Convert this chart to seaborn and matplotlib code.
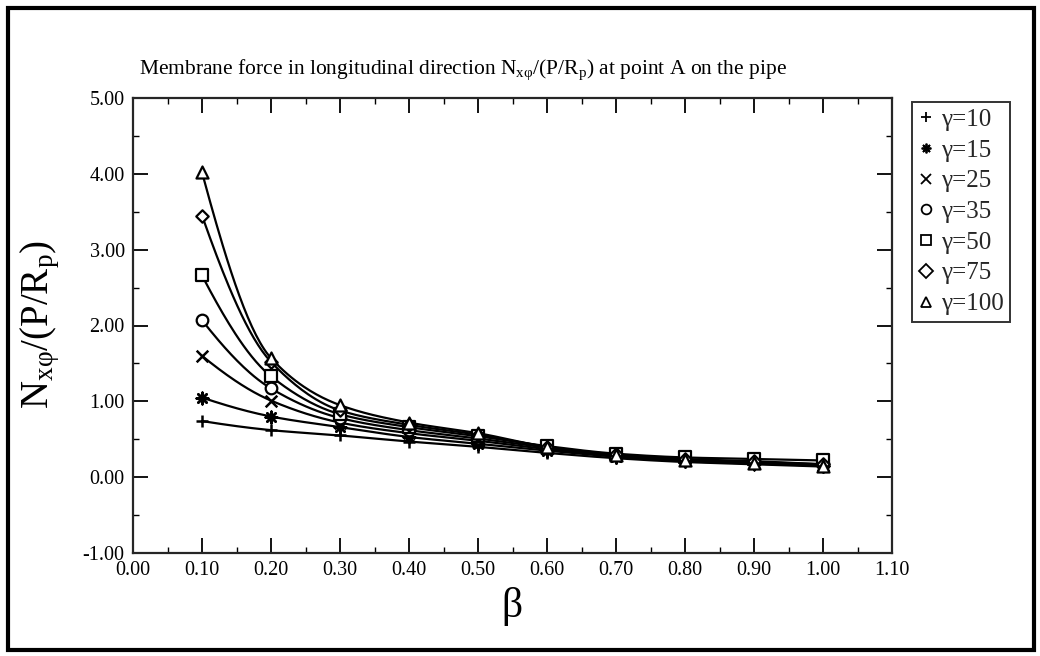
import numpy as np
import pandas as pd
import matplotlib
matplotlib.use("Agg")
import matplotlib.pyplot as plt
from matplotlib.lines import Line2D
from matplotlib.patches import Rectangle
from matplotlib.ticker import MultipleLocator, FormatStrFormatter
import seaborn as sns

# ---------------- data ----------------
beta = [0.1, 0.2, 0.3, 0.4, 0.5, 0.6, 0.7, 0.8, 0.9, 1.0]
gammas = ["10", "15", "25", "35", "50", "75", "100"]
g10 = [0.74, 0.62, 0.55, 0.47, 0.40, 0.32, 0.25, 0.20, 0.17, 0.14]
g15 = [1.05, 0.80, 0.66, 0.53, 0.44, 0.35, 0.27, 0.21, 0.18, 0.15]
g25 = [1.60, 1.01, 0.72, 0.58, 0.48, 0.37, 0.28, 0.22, 0.19, 0.16]
g35 = [2.07, 1.17, 0.78, 0.62, 0.51, 0.39, 0.29, 0.23, 0.20, 0.17]
g50 = [2.66, 1.33, 0.83, 0.66, 0.54, 0.41, 0.31, 0.26, 0.24, 0.22]
g75 = [3.45, 1.52, 0.88, 0.69, 0.56, 0.40, 0.30, 0.24, 0.21, 0.17]
g100 = [4.02, 1.57, 0.95, 0.72, 0.58, 0.40, 0.29, 0.22, 0.19, 0.15]
series = [g10, g15, g25, g35, g50, g75, g100]

title = r"Membrane force in longitudinal direction N$_{\mathrm{x\varphi}}$/(P/R$_{\mathrm{p}}$) at point A on the pipe"
ylabel = r"N$_{\mathrm{x\varphi}}$/(P/R$_{\mathrm{p}}$)"
xlabel = "β"

markers = ["+", (8, 2, 0), "x", "o", "s", "D", "^"]
msizes = [80, 70, 70, 70, 70, 40, 75]


def pchip(x, y, xs):
    x = np.asarray(x, float); y = np.asarray(y, float)
    h = np.diff(x); d = np.diff(y) / h
    n = len(x); m = np.zeros(n)
    for k in range(1, n - 1):
        if d[k - 1] * d[k] > 0:
            w1 = 2 * h[k] + h[k - 1]; w2 = h[k] + 2 * h[k - 1]
            m[k] = (w1 + w2) / (w1 / d[k - 1] + w2 / d[k])
    def end(h0, h1, d0, d1):
        v = ((2 * h0 + h1) * d0 - h0 * d1) / (h0 + h1)
        if np.sign(v) != np.sign(d0):
            v = 0.0
        elif np.sign(d0) != np.sign(d1) and abs(v) > abs(3 * d0):
            v = 3 * d0
        return v
    m[0] = end(h[0], h[1], d[0], d[1])
    m[-1] = end(h[-1], h[-2], d[-1], d[-2])
    idx = np.clip(np.searchsorted(x, xs) - 1, 0, n - 2)
    t = (xs - x[idx]) / h[idx]
    h00 = 2 * t**3 - 3 * t**2 + 1; h10 = t**3 - 2 * t**2 + t
    h01 = -2 * t**3 + 3 * t**2; h11 = t**3 - t**2
    return h00 * y[idx] + h10 * h[idx] * m[idx] + h01 * y[idx + 1] + h11 * h[idx] * m[idx + 1]


# ---------------- style ----------------
sns.set_theme(style="ticks")
plt.rcParams["font.family"] = ["Liberation Serif", "DejaVu Serif"]
plt.rcParams["mathtext.fontset"] = "custom"
plt.rcParams["mathtext.rm"] = "Liberation Serif"
plt.rcParams["mathtext.it"] = "Liberation Serif"
plt.rcParams["mathtext.bf"] = "Liberation Serif:bold"
plt.rcParams["axes.linewidth"] = 1.6

fig = plt.figure(figsize=(10.4, 6.56), dpi=100)
ax = fig.add_axes([133 / 1040, 1 - 553 / 656, (892 - 133) / 1040, (553 - 98) / 656])

xs = np.linspace(beta[0], beta[-1], 300)
for g, vals, mk, ms in zip(gammas, series, markers, msizes):
    curve = pd.DataFrame({"beta": xs, "val": pchip(beta, vals, xs)})
    sns.lineplot(data=curve, x="beta", y="val", ax=ax, color="black", lw=1.6,
                 sort=False, legend=False)
    pts = pd.DataFrame({"beta": beta, "val": vals})
    if mk in ["+", "x"] or isinstance(mk, tuple):
        sns.scatterplot(data=pts, x="beta", y="val", ax=ax, marker=mk, s=ms,
                        color="black", linewidth=1.8, legend=False, zorder=5)
    else:
        sns.scatterplot(data=pts, x="beta", y="val", ax=ax, marker=mk, s=ms,
                        facecolor="white", edgecolor="black", linewidth=1.6,
                        legend=False, zorder=5)

ax.set_xlim(0.0, 1.1)
ax.set_ylim(-1.0, 5.0)
ax.xaxis.set_major_locator(MultipleLocator(0.1))
ax.xaxis.set_minor_locator(MultipleLocator(0.05))
ax.yaxis.set_major_locator(MultipleLocator(1.0))
ax.yaxis.set_minor_locator(MultipleLocator(0.5))
ax.xaxis.set_major_formatter(FormatStrFormatter("%.2f"))
ax.yaxis.set_major_formatter(FormatStrFormatter("%.2f"))
ax.tick_params(which="both", direction="in", top=True, right=True, color="black")
ax.tick_params(which="major", length=11, width=1.3, labelsize=14.5, pad=6)
ax.tick_params(which="minor", length=4, width=1.0)
for lab in ax.get_xticklabels() + ax.get_yticklabels():
    lab.set_color("black")
ax.set_xlabel("")
ax.set_ylabel("")

fig.text(0.445, 1 - 70 / 656, title, ha="center", va="center", fontsize=15.5, color="black")
fig.text(40 / 1040, 1 - 325 / 656, ylabel, ha="center", va="center", rotation=90,
         fontsize=28, color="black")
fig.text(512 / 1040, 1 - 607 / 656, xlabel, ha="center", va="center", fontsize=30, color="black")

handles = []
for g, mk in zip(gammas, markers):
    filled = mk in ["+", "x"] or isinstance(mk, tuple)
    handles.append(Line2D([], [], ls="none", marker=mk, color="black",
                          markerfacecolor="black" if filled else "white",
                          markeredgecolor="black", markersize=7, markeredgewidth=1.3,
                          label="γ=" + g))
leg = fig.legend(handles=handles, loc="upper left",
                 bbox_to_anchor=(912 / 1040, 1 - 102 / 656), frameon=True,
                 fancybox=False, fontsize=18, handlelength=0.6, handletextpad=0.3,
                 labelspacing=0.33, borderpad=0.25, borderaxespad=0.0)
leg.get_frame().set_edgecolor("black")
leg.get_frame().set_linewidth(1.4)

fig.patches.append(Rectangle((8 / 1040, 6 / 656), 1 - 14 / 1040, 1 - 14 / 656,
                             transform=fig.transFigure, fill=False,
                             edgecolor="black", linewidth=3))

fig.savefig("out.png", dpi=100, facecolor="white")
